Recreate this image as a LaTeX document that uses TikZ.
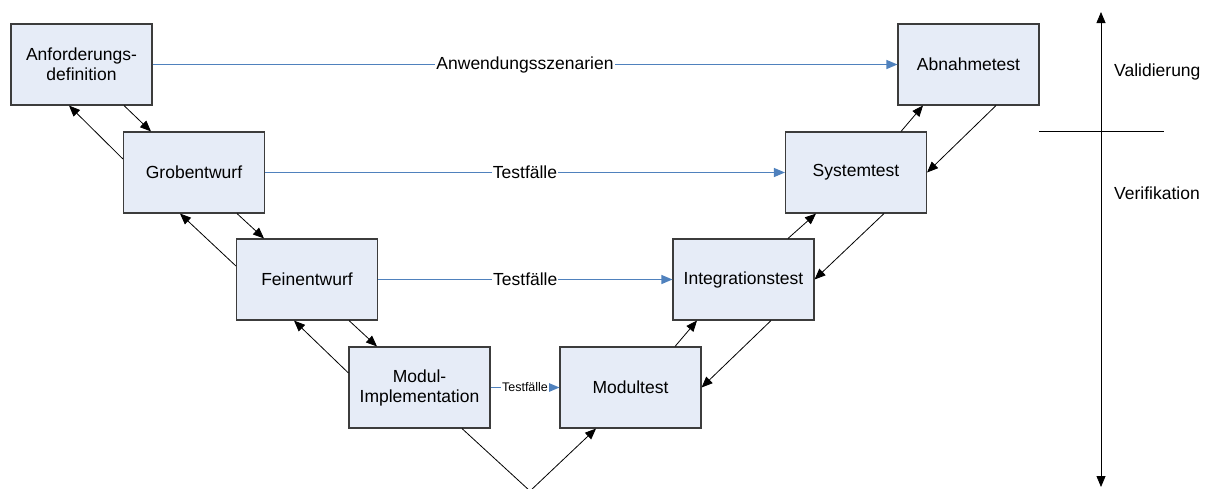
\documentclass[tikz,border=0pt]{standalone}
\usepackage{fontspec}
\setmainfont{Liberation Sans}
\usetikzlibrary{arrows.meta}
\definecolor{boxfill}{RGB}{230,236,247}
\definecolor{boxline}{RGB}{60,60,60}
\definecolor{vblue}{RGB}{79,129,189}
\tikzset{
  phase/.style={draw=boxline, line width=1.1pt, fill=boxfill, minimum width=141pt, minimum height=81pt, inner sep=0pt, align=center, font=\fontsize{17.5}{20}\selectfont},
  flow/.style={draw=black, line width=0.8pt, -{Triangle[length=11pt,width=9pt]}},
  tline/.style={draw=vblue, line width=1.1pt, -{Triangle[length=11pt,width=9pt,fill=vblue]}},
  tlabel/.style={fill=white, inner sep=1pt, font=\fontsize{17.5}{20}\selectfont},
  slabel/.style={fill=white, inner sep=1pt, font=\fontsize{12.5}{14}\selectfont},
  axislabel/.style={anchor=west, inner sep=0pt, font=\fontsize{17.5}{20}\selectfont},
}
\begin{document}
\begin{tikzpicture}[x=1pt,y=-1pt]
\useasboundingbox (0,0) rectangle (1210,488);
\node[phase] (anf) at (81.5,64.5) {Anforderungs-\\definition};
\node[phase] (grob) at (194,172.5) {Grobentwurf};
\node[phase] (fein) at (307,279.5) {Feinentwurf};
\node[phase] (mi) at (419.5,387.5) {Modul-\\Implementation};
\node[phase] (mt) at (630.5,387.5) {Modultest};
\node[phase] (integ) at (743.5,279.5) {Integrationstest};
\node[phase] (sys) at (856,172.5) {Systemtest};
\node[phase] (abn) at (968.5,64.5) {Abnahmetest};
\coordinate (v) at (530,491);
% left branch
\draw[flow] ([xshift=42.5pt]anf.south) -- ([xshift=-43pt]grob.north);
\draw[flow] ([yshift=13.5pt]grob.west) -- ([xshift=-12.5pt]anf.south);
\draw[flow] ([xshift=43pt]grob.south) -- ([xshift=-43pt]fein.north);
\draw[flow] ([yshift=13.5pt]fein.west) -- ([xshift=-14pt]grob.south);
\draw[flow] ([xshift=42pt]fein.south) -- ([xshift=-42.5pt]mi.north);
\draw[flow] ([yshift=14.5pt]mi.west) -- ([xshift=-13pt]fein.south);
% bottom
\draw[line width=0.8pt] ([xshift=42.5pt]mi.south) -- (v);
\draw[flow] (v) -- ([xshift=-34.5pt]mt.south);
% right branch
\draw[flow] ([xshift=44.5pt]mt.north) -- ([xshift=-46.5pt]integ.south);
\draw[flow] ([xshift=27.5pt]integ.south) -- (mt.east);
\draw[flow] ([xshift=44.5pt]integ.north) -- ([xshift=-40pt]sys.south);
\draw[flow] ([xshift=28pt]sys.south) -- (integ.east);
\draw[flow] ([xshift=45pt]sys.north) -- ([xshift=-45.5pt]abn.south);
\draw[flow] ([xshift=27.5pt]abn.south) -- (sys.east);
% test case links
\draw[tline] (anf.east) -- node[tlabel, pos=0.5] {Anwendungsszenarien} (abn.west);
\draw[tline] (grob.east) -- node[tlabel, pos=0.5] {Testfälle} (sys.west);
\draw[tline] (fein.east) -- node[tlabel, pos=0.5] {Testfälle} (integ.west);
\draw[tline] (mi.east) -- node[slabel, pos=0.5] {Testfälle} (mt.west);
% axis
\coordinate (atop) at (1101,12);
\coordinate (abot) at (1101,487);
\coordinate (hl) at (1039,131);
\coordinate (hr) at (1164,131);
\draw[line width=0.8pt, {Triangle[length=11pt,width=9pt]}-{Triangle[length=11pt,width=9pt]}] (atop) -- (abot);
\draw[line width=0.8pt] (hl) -- (hr);
\node[axislabel] (val) at (1114,72) {Validierung};
\node[axislabel] (ver) at (1114,193) {Verifikation};
\end{tikzpicture}
\end{document}
